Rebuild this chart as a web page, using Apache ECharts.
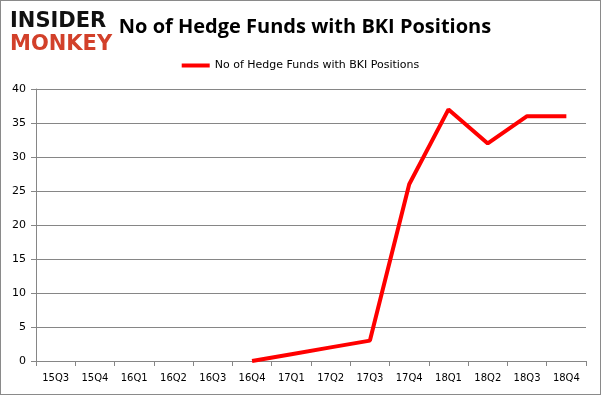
<!DOCTYPE html>
<html><head><meta charset="utf-8">
<script src="https://cdn.jsdelivr.net/npm/echarts@6/dist/echarts.min.js"></script>
<style>html,body{margin:0;padding:0;background:#fff}#c{width:601px;height:395px;box-sizing:border-box;border:1px solid #8a8a8a}</style>
</head><body><div id="c"></div>
<script>
const categories = ['15Q3','15Q4','16Q1','16Q2','16Q3','16Q4','17Q1','17Q2','17Q3','17Q4','18Q1','18Q2','18Q3','18Q4'];
const hedgeFunds = [null,null,null,null,null,0,1,2,3,26,37,32,36,36];
const seriesName = 'No of Hedge Funds with BKI Positions';
const titleText = 'No of Hedge Funds with BKI Positions';
const chart = echarts.init(document.getElementById('c'), null, {renderer:'canvas'});
const font = '"DejaVu Sans", Verdana, sans-serif';
chart.setOption({
  animation:false,
  title:[{text:titleText,left:299,top:11,textAlign:'center',textStyle:{fontFamily:'"Open Sans", "Liberation Sans", sans-serif',fontSize:20,fontWeight:'bold',color:'#000'}},
    {text:'INSIDER',left:4,top:5,textStyle:{fontFamily:'"DejaVu Sans", sans-serif',fontSize:21,fontWeight:'900',color:'#111'}},
    {text:'MONKEY',left:4,top:28,textStyle:{fontFamily:'"DejaVu Sans", sans-serif',fontSize:21,fontWeight:'900',color:'#d2402a'}}],
  legend:{top:54,left:'center',itemWidth:28,itemHeight:4,icon:'rect',itemGap:5,
    textStyle:{fontFamily:font,fontSize:11,color:'#000'},data:[seriesName]},
  grid:{left:35,right:14,top:88,bottom:33},
  xAxis:{type:'category',data:categories,boundaryGap:true,
    axisLine:{lineStyle:{color:'#868686',width:1}},
    axisTick:{show:true,length:5,lineStyle:{color:'#868686'}},
    axisLabel:{fontFamily:font,fontSize:10,color:'#000',margin:12}},
  yAxis:{type:'value',min:0,max:40,interval:5,
    axisLine:{show:true,lineStyle:{color:'#868686'}},
    axisTick:{show:true,length:5,lineStyle:{color:'#868686'}},
    splitLine:{lineStyle:{color:'#868686',width:1}},
    axisLabel:{fontFamily:font,fontSize:11,color:'#000',margin:10}},
  series:[{name:seriesName,type:'line',data:hedgeFunds,symbol:'none',
    lineStyle:{color:'#ff0000',width:4},itemStyle:{color:'#ff0000'}}]
});
</script></body></html>
